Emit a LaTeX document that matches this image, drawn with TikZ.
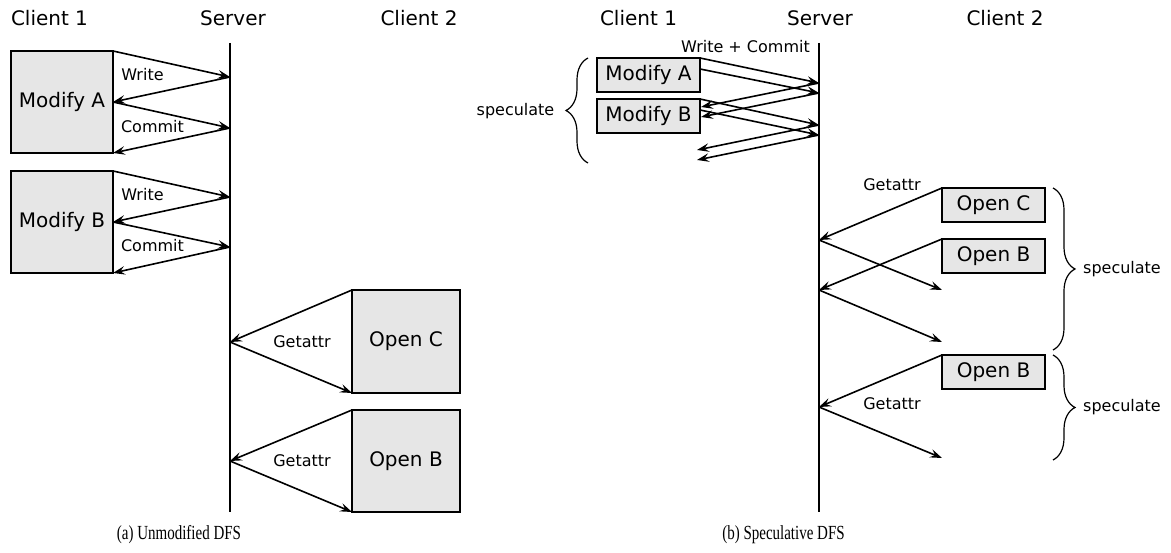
\documentclass[tikz,border=0pt]{standalone}
\usepackage{fontspec}
\newfontfamily\dv{DejaVu Sans}
\newfontfamily\capfont{Liberation Serif}
\usetikzlibrary{arrows.meta,decorations.pathreplacing}
\definecolor{boxgray}{RGB}{230,230,230}
\begin{document}
\begin{tikzpicture}[x=1pt,y=-1pt,
  box/.style={draw=black, line width=1.3pt, fill=boxgray, inner sep=0pt, outer sep=0pt, font=\dv\fontsize{20}{24}\selectfont},
  bigbox/.style={box, minimum width=102pt, minimum height=102pt},
  smallbox/.style={box, minimum width=103pt, minimum height=34pt},
  head/.style={font=\dv\fontsize{20}{24}\selectfont, inner sep=0pt},
  lbl/.style={font=\dv\fontsize{16}{19}\selectfont, inner sep=0pt},
  captxt/.style={font=\capfont\fontsize{20}{24}\selectfont, inner sep=0pt},
  msg/.style={line width=1.6pt, -{Stealth[length=12pt,width=8.5pt,inset=4.5pt]}},
  srv/.style={line width=2pt},
  brc/.style={decorate, decoration={brace, amplitude=22pt}, line width=1.2pt}]
\useasboundingbox (0,0) rectangle (1171,553);

% ---------------- (a) Unmodified DFS ----------------
\node[head] (hc1) at (49.5,18) {Client 1};
\node[head] (hs) at (233,18) {Server};
\node[head] (hc2) at (419,18) {Client 2};
\coordinate (st) at (230,43);
\coordinate (sb) at (230,512);
\draw[srv] (st) -- (sb);

\node[bigbox] (mA) at (62,102) {Modify A};
\node[bigbox] (mB) at (62,222) {Modify B};
\coordinate (w1) at (230,77);
\coordinate (c1) at (230,128);
\coordinate (w2) at (230,197);
\coordinate (c2) at (230,247);
\draw[msg] (mA.north east) -- (w1);
\draw[msg] (w1) -- (mA.east);
\draw[msg] (mA.east) -- (c1);
\draw[msg] (c1) -- (mA.south east);
\draw[msg] (mB.north east) -- (w2);
\draw[msg] (w2) -- (mB.east);
\draw[msg] (mB.east) -- (c2);
\draw[msg] (c2) -- (mB.south east);
\node[lbl] (lw1) at (142.5,75) {Write};
\node[lbl] (lc1) at (152.5,127) {Commit};
\node[lbl] (lw2) at (142.5,195) {Write};
\node[lbl] (lc2) at (152.5,246) {Commit};

\node[box, minimum width=108pt, minimum height=103pt] (oC) at (406,341.5) {Open C};
\node[box, minimum width=108pt, minimum height=102pt] (oB) at (406,461) {Open B};
\coordinate (g1) at (230,342);
\coordinate (g2) at (230,461);
\draw[msg] (oC.north west) -- (g1);
\draw[msg] (g1) -- (oC.south west);
\draw[msg] (oB.north west) -- (g2);
\draw[msg] (g2) -- (oB.south west);
\node[lbl] (lg1) at (302,342) {Getattr};
\node[lbl] (lg2) at (302,461) {Getattr};

\node[captxt] (capa) at (179,535) {\scalebox{0.75}[1]{(a) Unmodified DFS}};

% ---------------- (b) Speculative DFS ----------------
\node[head] (rhc1) at (638.5,18) {Client 1};
\node[head] (rhs) at (820,18) {Server};
\node[head] (rhc2) at (1005,18) {Client 2};
\coordinate (rst) at (819,43);
\coordinate (rsb) at (819,512);
\draw[srv] (rst) -- (rsb);
\node[lbl] (wc) at (745.5,47) {Write + Commit};

\node[smallbox] (rA) at (648.5,75) {Modify A};
\node[smallbox] (rB) at (648.5,116) {Modify B};
\coordinate (rAm) at (700,69);
\coordinate (rBm) at (700,110);
\coordinate (a1) at (819,83);
\coordinate (a2) at (819,93);
\coordinate (b1) at (819,125);
\coordinate (b2) at (819,135);
\coordinate (ra1) at (701,107);
\coordinate (ra2) at (701,117);
\coordinate (rb1) at (697,150);
\coordinate (rb2) at (697,160);
\draw[msg] (rA.north east) -- (a1);
\draw[msg] (rAm) -- (a2);
\draw[msg] (a1) -- (ra1);
\draw[msg] (a2) -- (ra2);
\draw[msg] (rB.north east) -- (b1);
\draw[msg] (rBm) -- (b2);
\draw[msg] (b1) -- (rb1);
\draw[msg] (b2) -- (rb2);
\coordinate (brl1) at (588,163);
\coordinate (brl2) at (588,58);
\draw[brc] (brl1) -- (brl2);
\node[lbl] (sp1) at (515.5,111) {speculate};

\node[smallbox] (oC2) at (993.5,205) {Open C};
\node[smallbox] (oB2) at (993.5,256) {Open B};
\node[smallbox] (oB3) at (993.5,372) {Open B};
\coordinate (g3) at (819,240);
\coordinate (g4) at (819,290);
\coordinate (g5) at (819,407);
\coordinate (e1) at (942,290);
\coordinate (e2) at (942,342);
\coordinate (e3) at (942,458);
\draw[msg] (oC2.north west) -- (g3);
\draw[msg] (g3) -- (e1);
\draw[msg] (oB2.north west) -- (g4);
\draw[msg] (g4) -- (e2);
\draw[msg] (oB3.north west) -- (g5);
\draw[msg] (g5) -- (e3);
\node[lbl] (lg3) at (892,185) {Getattr};
\node[lbl] (lg5) at (892,404) {Getattr};

\coordinate (brr1) at (1053,188);
\coordinate (brr2) at (1053,350);
\coordinate (brr3) at (1053,355);
\coordinate (brr4) at (1053,460);
\draw[brc] (brr1) -- (brr2);
\draw[brc] (brr3) -- (brr4);
\node[lbl] (sp2) at (1122,269) {speculate};
\node[lbl] (sp3) at (1122,407) {speculate};

\node[captxt] (capb) at (783.5,535) {\scalebox{0.75}[1]{(b) Speculative DFS}};
\end{tikzpicture}
\end{document}
